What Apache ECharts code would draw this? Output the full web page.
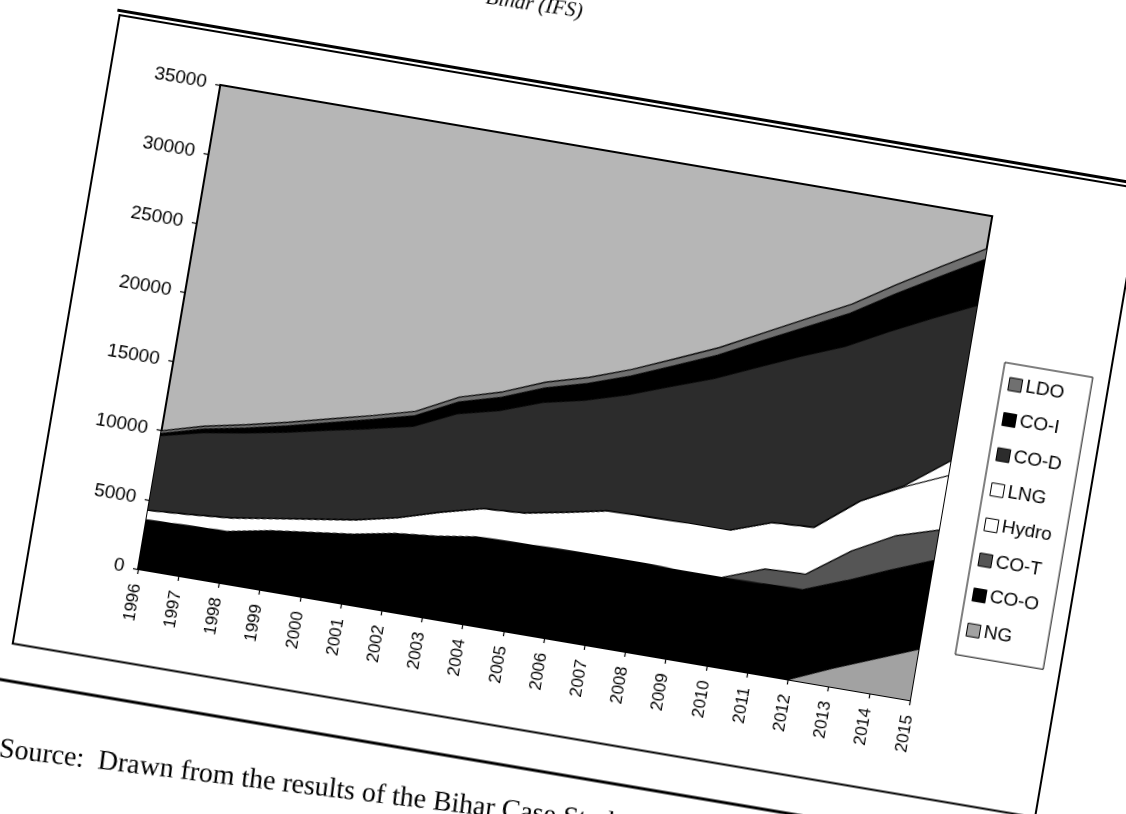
<!DOCTYPE html>
<html>
<head>
<meta charset="utf-8">
<script src="https://cdn.jsdelivr.net/npm/echarts@6/dist/echarts.min.js"></script>
<style>
  html, body { margin: 0; padding: 0; background: #fff; width: 1126px; height: 814px; overflow: hidden; }
  /* the printed page sits tilted on the scanner bed */
  #page {
    position: absolute; left: -62.5px; top: -122.5px;
    width: 1300px; height: 1000px;
    transform-origin: 200px 691px;
    transform: rotate(9.65deg);
  }
</style>
</head>
<body>
<div id="page"></div>
<script>
// Categories
const years = ['1996','1997','1998','1999','2000','2001','2002','2003','2004','2005',
               '2006','2007','2008','2009','2010','2011','2012','2013','2014','2015'];

// Stacked series, bottom to top
const ng    = [0,0,0,0,0,0,0,0,0,0,0,0,0,0,0,0,0,1300,2500,3700];
const coO   = [3540,3620,3700,4250,4630,5000,5550,5850,6300,6350,6400,6450,6450,6350,6380,6420,6500,6350,6400,6400];
const coT   = [0,0,0,0,0,0,0,0,0,0,0,0,0,0,0,1070,1120,2150,2500,2200];
const hydro = [700,830,1000,900,970,1050,1150,1750,2060,2200,2700,3250,3300,3450,3420,3360,3380,3600,3530,3940];
const lng   = [0,0,0,0,0,0,0,0,0,0,0,0,0,0,0,0,0,0,100,1060];
const coD   = [5410,5910,6140,6250,6430,6600,6620,7120,7100,7990,8100,8390,9440,10460,11780,12040,13080,12270,12110,11260];
const coI   = [150,250,350,450,550,650,750,850,950,1050,1200,1350,1500,1700,1900,2100,2400,2700,3000,3300];
const ldo   = [200,220,240,260,280,300,330,360,390,420,450,480,510,540,580,620,660,700,740,780];

// Axis scale
const yMin = 0, yMax = 35000, yStep = 5000;

// Legend order (top of stack first)
const legendOrder = ['LDO','CO-I','CO-D','LNG','Hydro','CO-T','CO-O','NG'];

const layers = [
  { name: 'NG',    data: ng,    fill: '#a2a2a2' },
  { name: 'CO-O',  data: coO,   fill: '#000000' },
  { name: 'CO-T',  data: coT,   fill: '#555555' },
  { name: 'Hydro', data: hydro, fill: '#ffffff' },
  { name: 'LNG',   data: lng,   fill: '#ffffff' },
  { name: 'CO-D',  data: coD,   fill: '#2c2c2c' },
  { name: 'CO-I',  data: coI,   fill: '#000000' },
  { name: 'LDO',   data: ldo,   fill: '#707070' }
];

const sansFont = '"Liberation Sans", Arial, sans-serif';
const serifFont = '"Liberation Serif", "DejaVu Serif", serif';

const chart = echarts.init(document.getElementById('page'), null, { renderer: 'canvas' });

chart.setOption({
  animation: false,
  backgroundColor: '#ffffff',
  grid: {
    left: 200, top: 200, width: 783, height: 491,
    show: true, backgroundColor: '#b6b6b6',
    borderColor: '#000', borderWidth: 2,
    containLabel: false
  },
  legend: {
    data: legendOrder,
    orient: 'vertical',
    left: 1020, top: 342,
    padding: [10, 14, 16, 7],
    itemGap: 14.6,
    itemWidth: 13, itemHeight: 13,
    icon: 'rect',
    backgroundColor: '#fff',
    borderColor: '#000', borderWidth: 1,
    itemStyle: { borderColor: '#000', borderWidth: 1 },
    textStyle: { fontFamily: sansFont, fontSize: 19, color: '#000', lineHeight: 21, padding: [0, 0, 0, -1] },
    selectedMode: false
  },
  xAxis: {
    type: 'category',
    data: years,
    boundaryGap: false,
    axisLine: { lineStyle: { color: '#000', width: 1.5 } },
    axisTick: { show: true, inside: false, length: 5, interval: 0, lineStyle: { color: '#000', width: 1.2 } },
    axisLabel: { interval: 0, rotate: 90, margin: 15, fontFamily: sansFont, fontSize: 17, color: '#000' },
    splitLine: { show: false }
  },
  yAxis: {
    type: 'value',
    min: yMin, max: yMax, interval: yStep,
    axisLine: { show: true, lineStyle: { color: '#000', width: 1.5 } },
    axisTick: { show: true, inside: false, length: 5, lineStyle: { color: '#000', width: 1.2 } },
    axisLabel: { margin: 14, fontFamily: sansFont, fontSize: 19, color: '#000',
                 formatter: v => String(v) },
    splitLine: { show: false }
  },
  series: layers.map(l => ({
    name: l.name,
    type: 'line',
    stack: 'total',
    data: l.data,
    symbol: 'none',
    showSymbol: false,
    color: l.fill,
    itemStyle: { color: l.fill, borderColor: '#000', borderWidth: 1 },
    lineStyle: { color: '#000', width: 1.2 },
    areaStyle: { color: l.fill, opacity: 1 },
    emphasis: { disabled: true },
    silent: true
  })),
  graphic: [
    // chart frame with its doubled top rule
    { type: 'rect', shape: { x: 89, y: 148, width: 1037, height: 637.5 },
      style: { fill: null, stroke: '#000', lineWidth: 2 } },
    { type: 'line', shape: { x1: 86, y1: 143.5, x2: 1300, y2: 143.5 },
      style: { stroke: '#000', lineWidth: 3 } },
    // page rule under the figure
    { type: 'line', shape: { x1: -200, y1: 823, x2: 1400, y2: 823 },
      style: { stroke: '#000', lineWidth: 3 } },
    // caption above the figure
    { type: 'text', x: 545, y: 78, rotation: 0.02,
      style: { text: 'Bihar (IFS)', fill: '#000', align: 'right', verticalAlign: 'bottom',
               font: 'italic 21px ' + serifFont } },
    // source note
    { type: 'text', x: 94, y: 906, rotation: 0.048,
      style: { text: 'Source:  Drawn from the results of the Bihar Case Study', fill: '#000',
               align: 'left', verticalAlign: 'bottom', font: '28px ' + serifFont } }
  ]
});
</script>
</body>
</html>
